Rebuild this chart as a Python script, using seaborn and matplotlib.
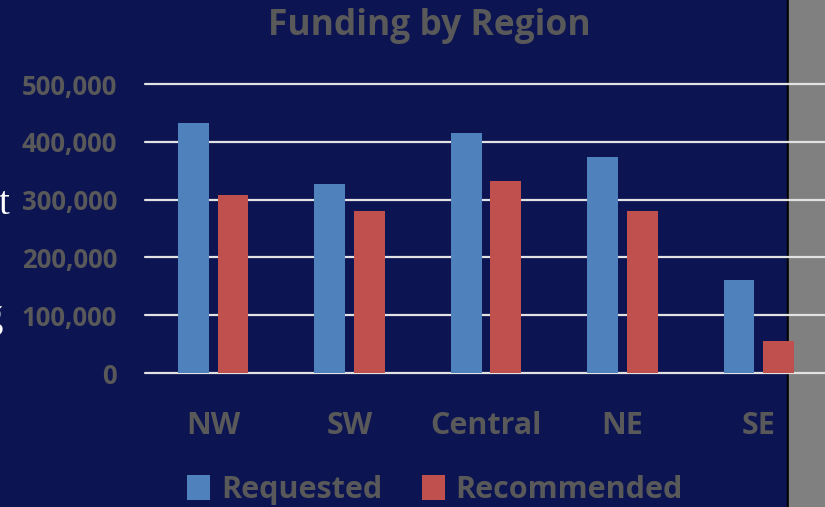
import pandas as pd
import seaborn as sns
import matplotlib.pyplot as plt
from matplotlib.patches import Rectangle
from matplotlib.ticker import FuncFormatter

# values
regions = ['NW', 'SW', 'Central', 'NE', 'SE']
requested = [432000, 327000, 415000, 374000, 161000]
recommended = [308000, 280000, 332000, 280000, 55000]
series_names = ['Requested', 'Recommended']
yticks = [0, 100000, 200000, 300000, 400000, 500000]

navy = '#0C1452'
text_grey = '#595959'
bar_colors = ['#4F81BD', '#C0504D']
font = 'Open Sans'

df = pd.DataFrame({
    'region': regions * 2,
    'amount': requested + recommended,
    'series': [series_names[0]] * len(regions) + [series_names[1]] * len(regions),
})

sns.set_style('white')
plt.rcParams['font.family'] = [font, 'DejaVu Sans']

W, H = 825, 507
fig = plt.figure(figsize=(W / 100, H / 100), dpi=100)
fig.patch.set_facecolor(navy)

# grey strip on the right edge of the slide, with a thin dark border
fig.patches.append(Rectangle((787 / W, 0), 2 / W, 1, transform=fig.transFigure,
                             color='black', zorder=-2))
fig.patches.append(Rectangle((789 / W, 0), 36 / W, 1, transform=fig.transFigure,
                             color='#808080', zorder=-2))

# axes run slightly past the right edge like in the cropped original
ax = fig.add_axes([145 / W, (H - 373) / H, 682 / W, 289 / H])
ax.set_facecolor('none')

sns.barplot(data=df, x='region', y='amount', hue='series', palette=bar_colors,
            width=0.58, gap=0.22, ax=ax, saturation=1, linewidth=0)

ax.set_ylim(0, 500000)
ax.set_yticks(yticks)
ax.yaxis.set_major_formatter(FuncFormatter(lambda v, p: f'{int(v):,}'))
ax.grid(axis='y', color='#E2E2E2', linewidth=1.6)
ax.set_axisbelow(True)
for gl in ax.get_ygridlines():
    gl.set_clip_on(False)
sns.despine(ax=ax, left=True, bottom=True, top=True, right=True)
ax.set_xlabel('')
ax.set_ylabel('')
ax.tick_params(axis='y', length=0, pad=20, labelsize=18.5, labelcolor=text_grey)
ax.tick_params(axis='x', length=0, pad=27, labelsize=22, labelcolor=text_grey)
for lab in ax.get_xticklabels() + ax.get_yticklabels():
    lab.set_fontweight('bold')

handles, labels = ax.get_legend_handles_labels()
ax.get_legend().remove()
fig.legend(handles, labels, loc='center', bbox_to_anchor=(435 / W, (H - 490) / H),
           ncol=2, frameon=False, prop={'family': font, 'weight': 'bold', 'size': 22},
           labelcolor=text_grey, handlelength=0.75, handleheight=0.9,
           handletextpad=0.35, columnspacing=1.3)

fig.text(429 / W, (H - 26) / H, 'Funding by Region', ha='center', va='center',
         fontsize=25.5, fontweight='bold', color=text_grey)

# clipped slide text at the far left edge
fig.text(9 / W, (H - 205) / H, 't', ha='right', va='center', color='white',
         fontsize=28, family='Liberation Serif')
fig.text(3 / W, (H - 318) / H, 'g', ha='right', va='center', color='white',
         fontsize=28, family='Liberation Serif')

fig.savefig('out.png', dpi=100, facecolor=fig.get_facecolor())
